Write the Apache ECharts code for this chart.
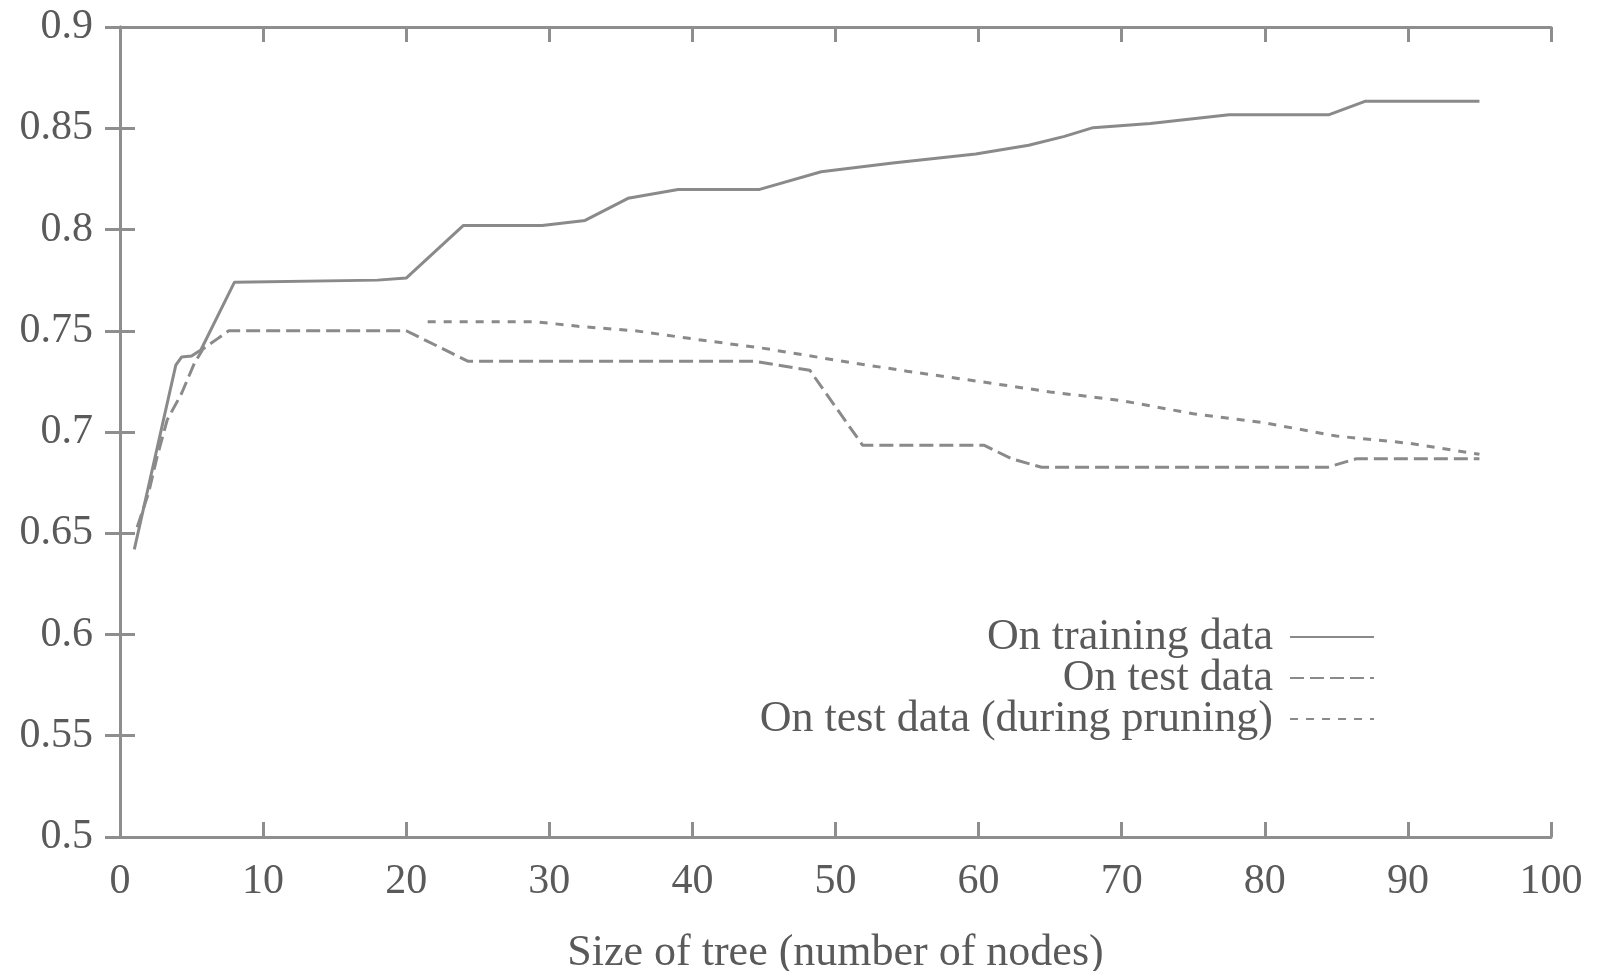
<!DOCTYPE html>
<html>
<head>
<meta charset="utf-8">
<script src="https://cdn.jsdelivr.net/npm/echarts@6/dist/echarts.min.js"></script>
<style>
html,body{margin:0;padding:0;background:#fff;}
#chart{width:1597px;height:971px;}
</style>
</head>
<body>
<div id="chart"></div>
<script>
// ---- data ----
const seriesNames = ['On training data', 'On test data', 'On test data (during pruning)'];

const trainX = [1, 3.9, 4.3, 5, 5.65, 8, 18, 20, 24, 29.5, 32.5, 35.5, 39, 44.7, 49, 54, 59.8, 63.5, 66, 68, 72, 77.5, 84.5, 87, 95];
const trainY = [0.642, 0.733, 0.737, 0.7375, 0.7405, 0.774, 0.775, 0.776, 0.802, 0.802, 0.8045, 0.8154, 0.8198, 0.8198, 0.8285, 0.8328, 0.8373, 0.8416, 0.846, 0.8503, 0.8524, 0.8567, 0.8567, 0.8633, 0.8633];

const testX = [1.2, 2, 2.6, 3.3, 4.3, 5.2, 5.8, 6.8, 7.6, 20, 24.3, 44.3, 46, 48.2, 51.9, 60.4, 62.3, 64.4, 84.4, 86.4, 95];
const testY = [0.653, 0.67, 0.688, 0.706, 0.719, 0.734, 0.741, 0.746, 0.75, 0.75, 0.735, 0.735, 0.733, 0.7305, 0.6934, 0.6934, 0.6868, 0.6826, 0.6826, 0.6868, 0.6868];

const pruneX = [21.5, 29, 32, 36, 40, 45, 50, 55, 60, 65, 70, 75, 80, 85, 90, 95];
const pruneY = [0.7545, 0.7545, 0.7522, 0.750, 0.746, 0.7413, 0.7355, 0.730, 0.725, 0.7198, 0.7155, 0.709, 0.7045, 0.698, 0.6945, 0.689];

const xTitle = 'Size of tree (number of nodes)';

// ---- chart ----
const zip = (xs, ys) => xs.map((x, i) => [x, ys[i]]);
const FONT = 'Liberation Serif';
const AX = '#8e8e8e';
const TXT = '#5a5a5a';
const LINE = '#8a8a8a';

const chart = echarts.init(document.getElementById('chart'), null, {renderer: 'canvas'});

const baseAxisLine = {show: true, lineStyle: {color: AX, width: 3}};
const baseTick = {show: true, inside: true, length: 15, lineStyle: {color: AX, width: 3}};

chart.setOption({
  animation: false,
  backgroundColor: '#ffffff',
  grid: {left: 120, right: 46, top: 27, bottom: 134, containLabel: false, outerBoundsMode: 'none'},
  xAxis: [
    {
      type: 'value', min: 0, max: 100, interval: 10, position: 'bottom',
      axisLine: baseAxisLine, axisTick: baseTick, splitLine: {show: false},
      axisLabel: {fontFamily: FONT, fontSize: 42, color: TXT, margin: 24},
      name: xTitle, nameLocation: 'middle', nameGap: 94,
      nameTextStyle: {fontFamily: FONT, fontSize: 44, color: TXT}
    },
    {
      type: 'value', min: 0, max: 100, interval: 10, position: 'top',
      axisLine: baseAxisLine, axisTick: baseTick, splitLine: {show: false},
      axisLabel: {show: false}
    }
  ],
  yAxis: [
    {
      type: 'value', min: 0.5, max: 0.9, interval: 0.05, position: 'left',
      axisLine: baseAxisLine, axisTick: baseTick, splitLine: {show: false},
      axisLabel: {fontFamily: FONT, fontSize: 42, color: TXT, margin: 27,
        formatter: v => String(+v.toFixed(2))}
    },
    {
      type: 'value', min: 0.5, max: 0.9, interval: 0.05, position: 'right',
      axisLine: baseAxisLine, axisTick: baseTick, splitLine: {show: false},
      axisLabel: {show: false}
    }
  ],
  legend: {
    orient: 'vertical', align: 'right', right: 217, top: 610,
    itemWidth: 84, itemHeight: 10, itemGap: -3,
    itemStyle: {opacity: 0},
    textStyle: {fontFamily: FONT, fontSize: 44, color: TXT, lineHeight: 40, padding: [0, 12, 0, 0]},
    data: seriesNames
  },
  series: [
    {name: seriesNames[0], type: 'line', symbol: 'none', data: zip(trainX, trainY),
      lineStyle: {color: LINE, width: 3, type: 'solid'}, itemStyle: {color: LINE}},
    {name: seriesNames[1], type: 'line', symbol: 'none', data: zip(testX, testY),
      lineStyle: {color: LINE, width: 3, type: [14, 6]}, itemStyle: {color: LINE}},
    {name: seriesNames[2], type: 'line', symbol: 'none', data: zip(pruneX, pruneY),
      lineStyle: {color: LINE, width: 3, type: [8, 8]}, itemStyle: {color: LINE}}
  ]
});
</script>
</body>
</html>
